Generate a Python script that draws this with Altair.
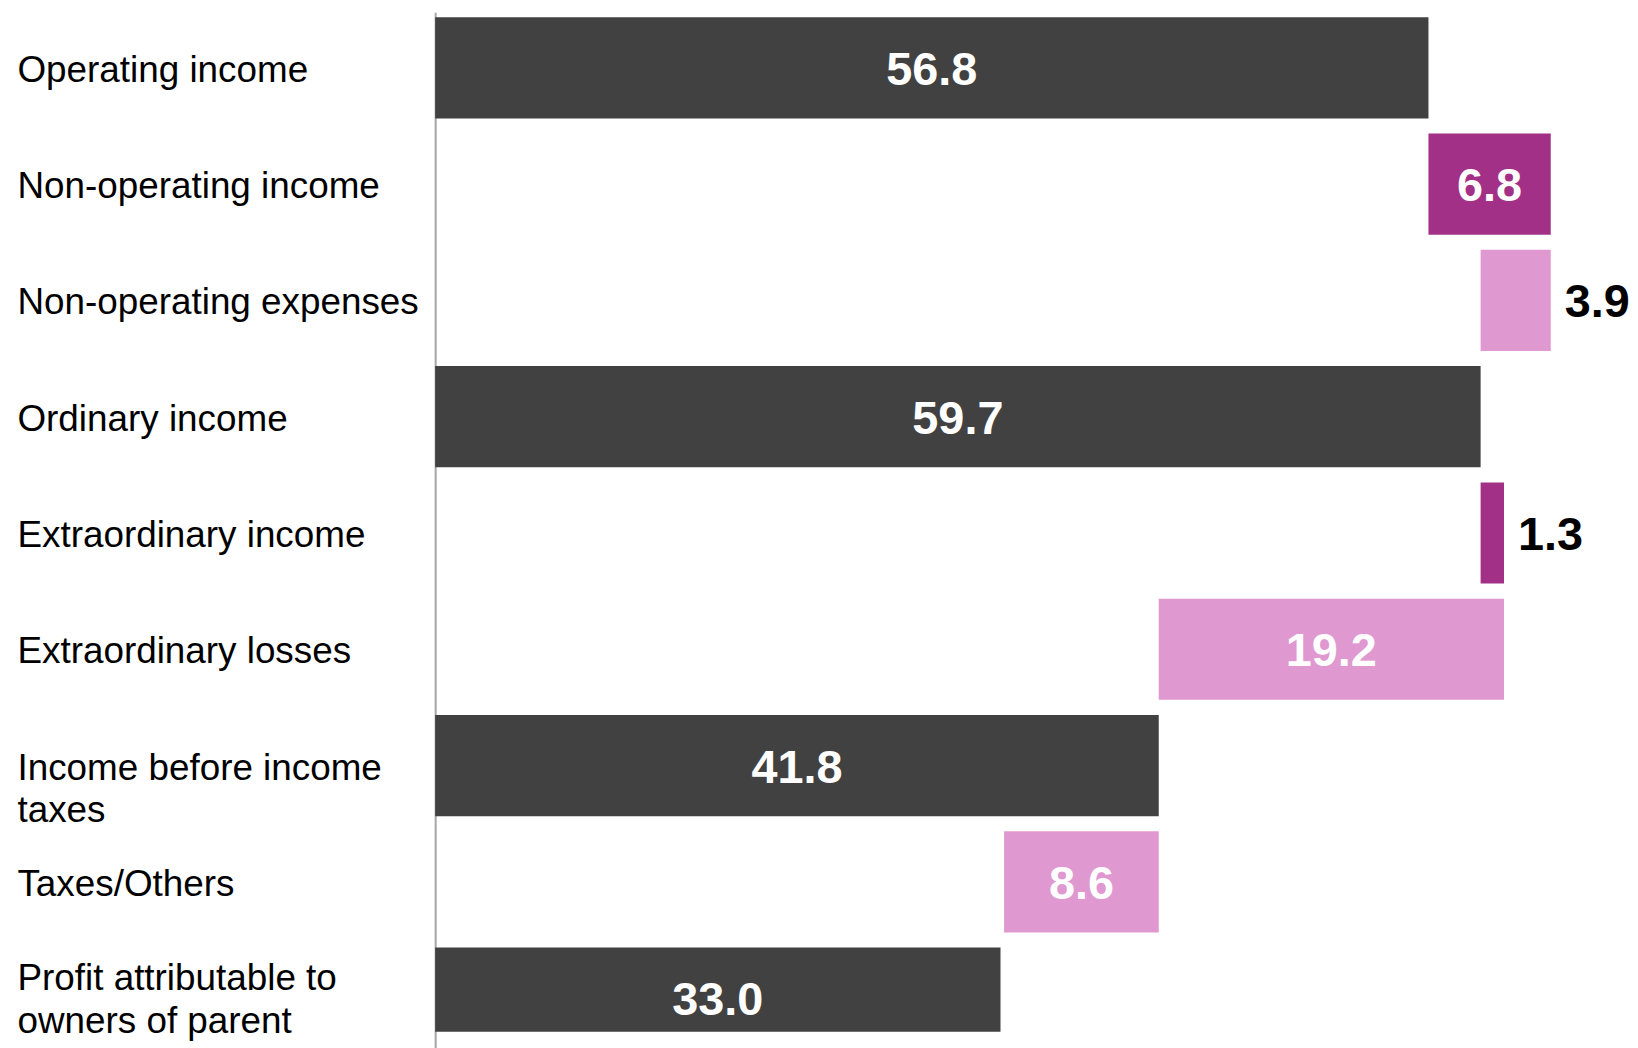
import altair as alt
import pandas as pd

categories = [
    "Operating income",
    "Non-operating income",
    "Non-operating expenses",
    "Ordinary income",
    "Extraordinary income",
    "Extraordinary losses",
    "Income before income|taxes",
    "Taxes/Others",
    "Profit attributable to|owners of parent",
]
values = [56.8, 6.8, 3.9, 59.7, 1.3, 19.2, 41.8, 8.6, 33.0]
kinds = ["total", "increase", "decrease", "total", "increase", "decrease", "total", "decrease", "total"]

kind_domain = ["total", "increase", "decrease"]
kind_colors = ["#414141", "#A23086", "#E098D0"]

X_MIN = 1.56
X_MAX = 66.9

rows = []
running = 0.0
for c, v, k in zip(categories, values, kinds):
    if k == "total":
        start, end = 0.0, v
        running = v
    elif k == "increase":
        start, end = running, running + v
        running = end
    else:
        start, end = running - v, running
        running = start
    vis_start = max(start, X_MIN)
    rows.append({"category": c, "value": v, "kind": k, "start": start, "end": end,
                 "mid": (vis_start + end) / 2, "inside": (end - start) >= 5})
df = pd.DataFrame(rows)

FONT = "Liberation Sans"
last_cat = categories[-1]

y_enc = alt.Y(
    "category:N",
    sort=categories,
    scale=alt.Scale(range=[0, 1046], paddingInner=0.13, paddingOuter=0.043),
    axis=alt.Axis(
        title=None,
        labelExpr="split(datum.label, '|')",
        labelAlign="left",
        labelBaseline="middle",
        labelPadding=420,
        labelLimit=430,
        labelFont=FONT,
        labelFontSize=37,
        labelColor="black",
        labelLineHeight=43,
        labelOffset={"condition": {"test": f"datum.value == '{last_cat}'", "value": -19}, "value": 3},
        ticks=False,
        tickSize=0,
        domainColor="#A6A6A6",
        domainWidth=2,
        grid=False,
    ),
)
x_scale = alt.Scale(domain=[X_MIN, X_MAX], nice=False, zero=False)

base = alt.Chart(df)

bars = base.mark_bar(clip=True).encode(
    y=y_enc,
    x=alt.X("start:Q", scale=x_scale, axis=None),
    x2="end:Q",
    color=alt.Color("kind:N", scale=alt.Scale(domain=kind_domain, range=kind_colors), legend=None),
)

inside = base.transform_filter("datum.inside").mark_text(
    color="white", fontWeight="bold", fontSize=47, font=FONT, align="center", baseline="middle", dy=3
).encode(
    y=y_enc,
    x=alt.X("mid:Q", scale=x_scale, axis=None),
    text=alt.Text("value:Q", format=".1f"),
)

outside = base.transform_filter("!datum.inside").mark_text(
    color="black", fontWeight="bold", fontSize=47, font=FONT, align="left", baseline="middle", dx=14, dy=3
).encode(
    y=y_enc,
    x=alt.X("end:Q", scale=x_scale, axis=None),
    text=alt.Text("value:Q", format=".1f"),
)

chart = alt.layer(bars, inside, outside).properties(
    width=1180,
    height=1024,
    padding={"left": 9, "top": 2, "right": 0, "bottom": 0},
).configure_view(stroke=None)

chart.save("out.html", embed_options={"renderer": "svg", "actions": False})
